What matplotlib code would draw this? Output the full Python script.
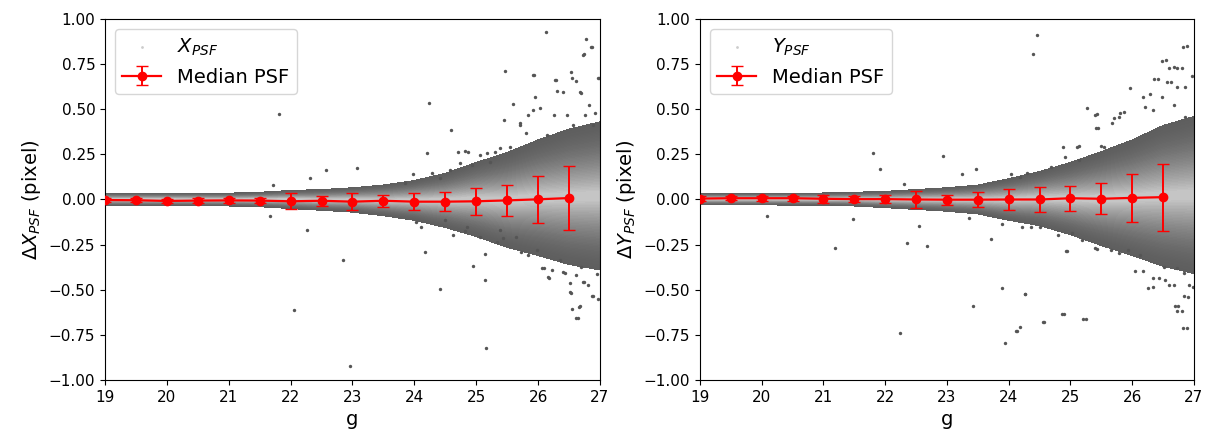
import numpy as np
import matplotlib
matplotlib.use("Agg")
import matplotlib.pyplot as plt

# magnitude bins of the median curve
g_bins = [19, 19.5, 20, 20.5, 21, 21.5, 22, 22.5, 23, 23.5, 24, 24.5, 25, 25.5, 26, 26.5]

# median offsets and error bars (pixel)
x_med = [-0.003, -0.004, -0.008, -0.006, -0.005, -0.006, -0.010, -0.007, -0.012, -0.007,
         -0.012, -0.012, -0.010, -0.005, 0.001, 0.008]
x_err = [0.012, 0.012, 0.012, 0.013, 0.014, 0.015, 0.045, 0.028, 0.046, 0.033,
         0.046, 0.052, 0.074, 0.086, 0.130, 0.175]
y_med = [0.005, 0.007, 0.007, 0.007, 0.004, 0.002, 0.002, 0.000, -0.001, -0.001,
         0.000, 0.000, 0.007, 0.004, 0.009, 0.013]
y_err = [0.012, 0.012, 0.013, 0.013, 0.023, 0.015, 0.022, 0.046, 0.028, 0.040,
         0.060, 0.067, 0.070, 0.086, 0.134, 0.186]

# envelope of the dense point cloud (upper / lower edge)
g_env = [19, 20, 21, 21.5, 22, 22.5, 23, 23.5, 24, 24.5, 25, 25.5, 26, 26.5, 27]
x_env_hi = [0.035, 0.035, 0.035, 0.040, 0.050, 0.055, 0.065, 0.080, 0.105, 0.145, 0.205, 0.260, 0.330, 0.390, 0.430]
x_env_lo = [-0.035, -0.035, -0.036, -0.040, -0.050, -0.060, -0.070, -0.090, -0.115, -0.155, -0.205, -0.265, -0.310, -0.360, -0.390]
y_env_hi = [0.035, 0.035, 0.036, 0.040, 0.045, 0.055, 0.065, 0.080, 0.115, 0.155, 0.205, 0.265, 0.330, 0.410, 0.460]
y_env_lo = [-0.030, -0.030, -0.032, -0.036, -0.045, -0.055, -0.065, -0.080, -0.115, -0.145, -0.195, -0.255, -0.310, -0.370, -0.410]

# scattered points outside the dense cloud (g, offset)
x_out_g = [26.12, 26.78, 26.87, 26.75, 26.98, 25.47, 25.94, 26.29, 26.53, 26.62, 26.70, 25.95, 25.60,
           24.24, 21.81, 25.45, 24.59, 24.20, 25.71, 23.08, 22.57, 22.31, 21.72,
           21.66, 22.26, 24.17, 24.10, 22.84, 24.95, 25.14, 25.14, 24.41, 22.05, 25.16, 22.96,
           26.53, 26.68, 26.65, 26.89, 26.09, 26.18, 26.97, 26.43, 26.75,
           24.71, 24.82, 24.87, 23.98, 24.28, 24.58, 24.74, 25.06, 25.17, 25.30, 25.71, 25.84,
           25.92, 26.03, 25.92, 26.27, 26.30, 26.41, 26.54, 26.68, 26.83, 26.92, 26.97, 26.85,
           26.73, 25.80, 26.14, 26.25, 26.46, 26.57, 26.76, 26.89, 25.38, 25.55, 25.22, 24.93,
           24.41, 23.85,
           24.63, 24.82, 25.06, 25.33, 25.44, 25.73, 25.84, 25.98, 26.06, 26.16, 26.22, 26.41,
           26.52, 26.51, 26.54, 26.62, 26.66, 26.72, 26.81, 26.87, 26.95, 26.70, 24.02, 24.50,
           24.85, 25.38, 25.65, 26.35, 26.62]
x_out_v = [0.926, 0.887, 0.847, 0.804, 0.671, 0.712, 0.691, 0.662, 0.708, 0.658, 0.592, 0.570, 0.529,
           0.535, 0.472, 0.440, 0.385, 0.260, 0.413, 0.173, 0.163, 0.117, 0.080,
           -0.090, -0.170, -0.289, -0.154, -0.337, -0.367, -0.302, -0.446, -0.497, -0.612, -0.822, -0.922,
           -0.516, -0.590, -0.658, -0.535, -0.381, -0.437, -0.550, -0.405, -0.455,
           0.261, 0.269, 0.265, 0.140, 0.145, 0.163, 0.200, 0.247, 0.256, 0.265, 0.422, 0.468,
           0.496, 0.505, 0.690, 0.662, 0.601, 0.597, 0.671, 0.594, 0.524, 0.478, 0.671, 0.843,
           0.800, 0.367, 0.357, 0.468, 0.468, 0.413, 0.468, 0.413, 0.284, 0.293, 0.209, 0.191,
           0.117, 0.090,
           -0.197, -0.175, -0.206, -0.234, -0.212, -0.289, -0.307, -0.280, -0.381, -0.428, -0.391, -0.403,
           -0.464, -0.514, -0.607, -0.655, -0.594, -0.459, -0.474, -0.533, -0.414, -0.372, -0.123, -0.114,
           -0.151, -0.169, -0.206, -0.335, -0.418]
y_out_g = [24.45, 24.39, 26.82, 26.48, 26.59, 26.73, 26.36, 26.56, 26.97, 25.96, 25.26, 25.39, 25.41,
           25.81, 25.71, 21.80, 21.92, 22.93, 23.47, 23.25, 22.30, 24.88, 25.11, 25.49,
           20.08, 21.48, 21.19, 22.36, 22.55, 22.68, 23.35, 23.72, 23.89, 23.42, 22.24, 23.94,
           24.11, 24.19, 24.26, 24.55, 24.86, 25.21, 24.92, 25.39, 26.18, 26.26, 26.69, 26.73,
           26.82, 26.84, 26.98, 26.60, 26.43,
           25.43, 25.45, 25.14, 25.68, 25.79, 25.87, 26.17, 26.29, 26.41, 26.55, 26.67, 26.80,
           26.89, 26.62, 26.72, 26.86, 26.48, 26.20, 26.34, 26.67, 26.86, 25.54, 25.13, 24.91,
           24.69, 24.19, 24.03, 24.30,
           24.13, 24.27, 24.57, 24.90, 25.25, 24.95, 25.43, 25.65, 26.05, 26.34, 26.33, 26.53,
           26.67, 26.74, 26.80, 26.88, 26.90, 26.92, 26.51, 26.73, 26.84, 23.89, 24.22, 24.36,
           24.51, 24.80, 25.02, 25.18, 25.79, 25.93, 26.12]
y_out_v = [0.911, 0.806, 0.847, 0.769, 0.730, 0.730, 0.666, 0.653, 0.684, 0.616, 0.505, 0.468, 0.394,
           0.477, 0.450, 0.256, 0.167, 0.243, 0.169, 0.139, 0.086, 0.289, 0.293, 0.296,
           -0.091, -0.110, -0.271, -0.240, -0.147, -0.258, -0.104, -0.221, -0.492, -0.588, -0.738, -0.793,
           -0.727, -0.708, -0.523, -0.677, -0.634, -0.661, -0.285, -0.271, -0.394, -0.492, -0.590, -0.616,
           -0.714, -0.535, -0.483, -0.474, -0.437,
           0.472, 0.394, 0.296, 0.422, 0.459, 0.486, 0.570, 0.584, 0.666, 0.773, 0.732, 0.730,
           0.850, 0.653, 0.625, 0.625, 0.570, 0.514, 0.496, 0.524, 0.459, 0.293, 0.219, 0.237,
           0.182, 0.126, 0.141, 0.145,
           -0.727, -0.524, -0.677, -0.634, -0.660, -0.283, -0.276, -0.280, -0.394, -0.483, -0.437, -0.446,
           -0.474, -0.588, -0.616, -0.714, -0.538, -0.474, -0.372, -0.381, -0.409, -0.136, -0.151, -0.151,
           -0.151, -0.197, -0.187, -0.224, -0.298, -0.280, -0.307]

panels = [
    ("X", x_med, x_err, x_env_hi, x_env_lo, x_out_g, x_out_v),
    ("Y", y_med, y_err, y_env_hi, y_env_lo, y_out_g, y_out_v),
]

# shading of the cloud: fraction of the envelope -> grey level (dark edge, light core)
n_layers = 48
fracs = np.linspace(1.0, 0.06, n_layers)
greys = 0.37 + 0.45 * (1 - fracs) ** 1.8

fig = plt.figure(figsize=(12.15, 4.48), dpi=100)
axes = [fig.add_axes([0.0864, 0.1518, 0.4074, 0.8058]),
        fig.add_axes([0.5761, 0.1518, 0.4066, 0.8058])]

for ax, (name, med, err, hi, lo, og, ov) in zip(axes, panels):
    hi = np.array(hi)
    lo = np.array(lo)
    mid = (hi + lo) / 2
    for f, c in zip(fracs, greys):
        ax.fill_between(g_env, mid + (hi - mid) * f, mid + (lo - mid) * f,
                        facecolor=str(c), lw=0, antialiased=False, zorder=1)
    ax.scatter(og, ov, s=6, color="#555555", lw=0, zorder=2)
    # legend proxy for the point cloud
    ax.scatter([], [], s=4, color="#cccccc", lw=0, label="$%s_{PSF}$" % name)
    ax.errorbar(g_bins, med, yerr=err, color="red", marker="o", ms=6, lw=1.6,
                capsize=4, elinewidth=1.4, label="Median PSF", zorder=3)
    ax.set_xlim(19, 27)
    ax.set_ylim(-1, 1)
    ax.set_xticks(range(19, 28))
    ax.set_yticks(np.arange(-1, 1.01, 0.25))
    ax.set_xlabel("g", fontsize=14)
    ax.set_ylabel("$\\Delta %s_{PSF}$ (pixel)" % name, fontsize=14)
    ax.tick_params(labelsize=11)
    ax.legend(loc="upper left", fontsize=14)

fig.savefig("out.png", dpi=100)
